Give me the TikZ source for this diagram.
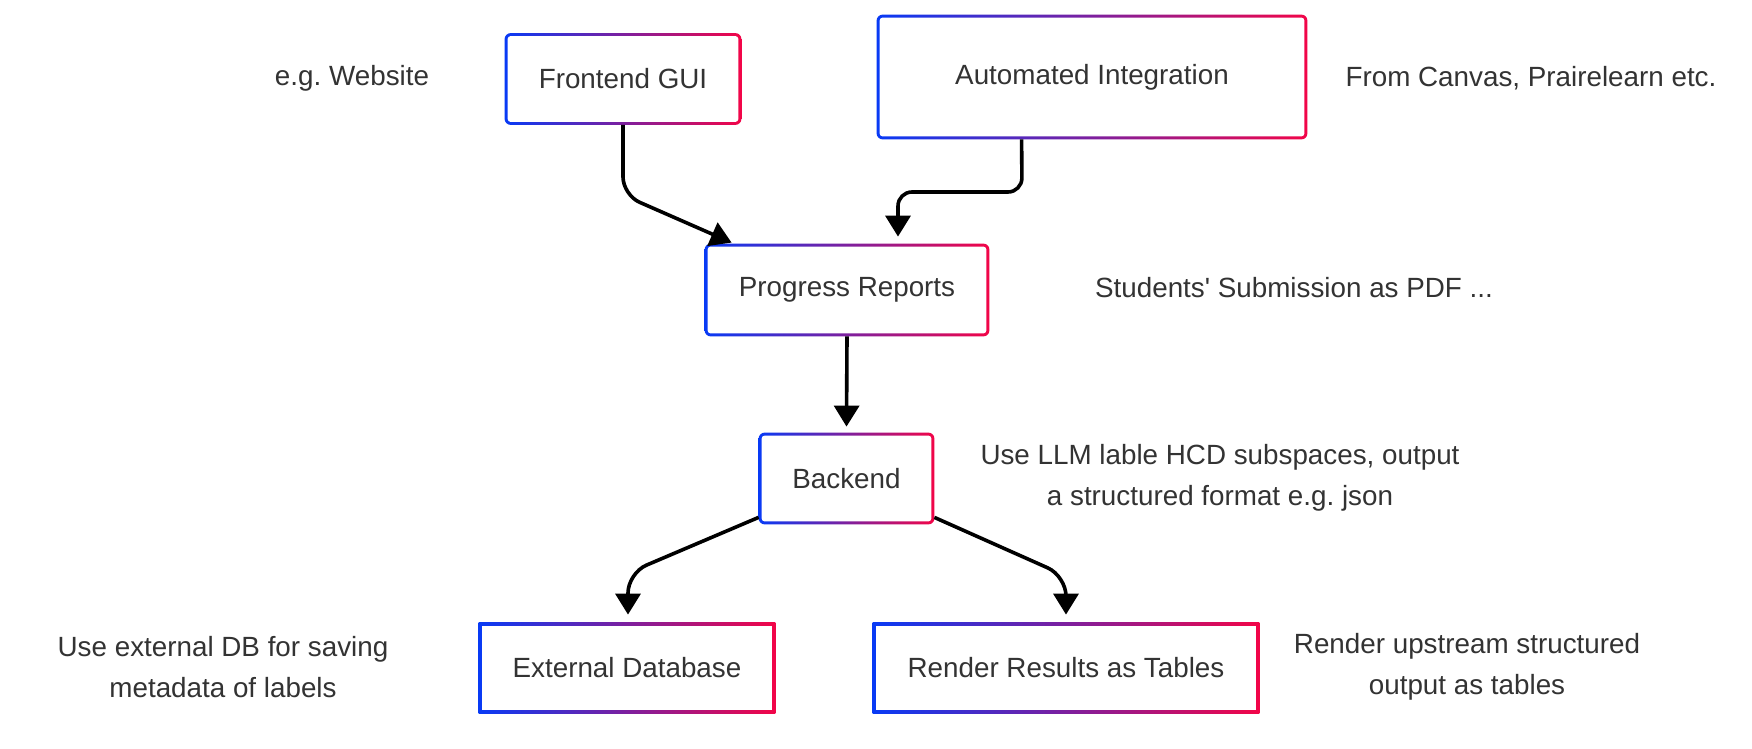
\documentclass[tikz,border=0pt]{standalone}
\usepackage{fontspec}
\setmainfont{Liberation Sans}
\usetikzlibrary{arrows.meta,calc}
\definecolor{gblue}{RGB}{8,58,245}
\definecolor{gred}{RGB}{242,5,72}
\definecolor{txt}{RGB}{51,51,51}
\pgfdeclarelayer{background}
\pgfsetlayers{background,main}
\frenchspacing
\newcommand{\gradbox}[3]{%
  \shade[left color=gblue, right color=gred, #2] (#1.south west) rectangle (#1.north east);
  \fill[white, #3] ([shift={(1.5pt,1.5pt)}]#1.south west) rectangle ([shift={(-1.5pt,-1.5pt)}]#1.north east);
}
\tikzset{
  box/.style={inner sep=0pt, text=txt, font=\fontsize{13.9}{20.5}\selectfont},
  lbl/.style={align=center, text=txt, font=\fontsize{13.9}{20.5}\selectfont, inner sep=0pt},
  conn/.style={line width=1.8pt, draw=black, -{Triangle[width=12.5pt,length=10.5pt]}},
}
\begin{document}
\begin{tikzpicture}[x=0.5pt,y=-0.5pt]
\useasboundingbox (0,0) rectangle (1752,749);
% boxes
\node[box, minimum width=118pt, minimum height=45.5pt] (fe) at (623,79) {Frontend GUI};
\node[box, minimum width=215pt, minimum height=62pt] (ai) at (1092,77) {Automated Integration};
\node[box, minimum width=142pt, minimum height=46pt] (pr) at (847,290) {Progress Reports};
\node[box, minimum width=87.5pt, minimum height=45.5pt] (be) at (846.5,478.5) {Backend};
\node[box, minimum width=148pt, minimum height=45pt] (db) at (627,668) {External Database};
\node[box, minimum width=193pt, minimum height=45pt] (rr) at (1066,668) {Render Results as Tables};
% labels
\node[lbl] (l1) at (352,78) {e.g. Website};
\node[lbl] (l2) at (1531,78) {From Canvas, Prairelearn etc.};
\node[lbl] (l3) at (1294,288) {Students\textquotesingle{} Submission as PDF ...};
\node[lbl] (l4) at (1220,478) {Use LLM lable HCD subspaces, output\\a structured format e.g. json};
\node[lbl] (l5) at (223,667) {Use external DB for saving\\metadata of labels};
\node[lbl] (l6) at (1467,667) {Render upstream structured\\output as tables};
\begin{pgfonlayer}{background}
  \fill[white] (0,0) rectangle (1752,749);
  \gradbox{fe}{rounded corners=3pt}{rounded corners=1.5pt}
  \gradbox{ai}{rounded corners=3pt}{rounded corners=1.5pt}
  \gradbox{pr}{rounded corners=3pt}{rounded corners=1.5pt}
  \gradbox{be}{rounded corners=3pt}{rounded corners=1.5pt}
  \gradbox{db}{sharp corners}{sharp corners}
  \gradbox{rr}{sharp corners}{sharp corners}
\end{pgfonlayer}
% connector bends
\coordinate (c1) at (623,195);
\coordinate (c2) at (1022,192);
\coordinate (c3) at (898,192);
\coordinate (c4) at (628,573);
\coordinate (c5) at (1066,576);
\coordinate (aiout) at ($(ai.south west)+(145,0)$);
% connectors
\draw[conn, rounded corners=9pt] (fe.south) -- (c1) -- ($(pr.north west)+(27,-1)$);
\draw[conn, rounded corners=7pt] (aiout) -- (c2) -- (c3) -- ([yshift=3.5pt]pr.north -| c3);
\draw[conn] (pr.south) -- ([yshift=3pt]be.north);
\draw[conn, rounded corners=10pt] ([yshift=3.5pt]be.south west) -- (c4) -- ([yshift=4pt]db.north -| c4);
\draw[conn, rounded corners=10pt] ([yshift=3.5pt]be.south east) -- (c5) -- ([yshift=4pt]rr.north);
\end{tikzpicture}
\end{document}
